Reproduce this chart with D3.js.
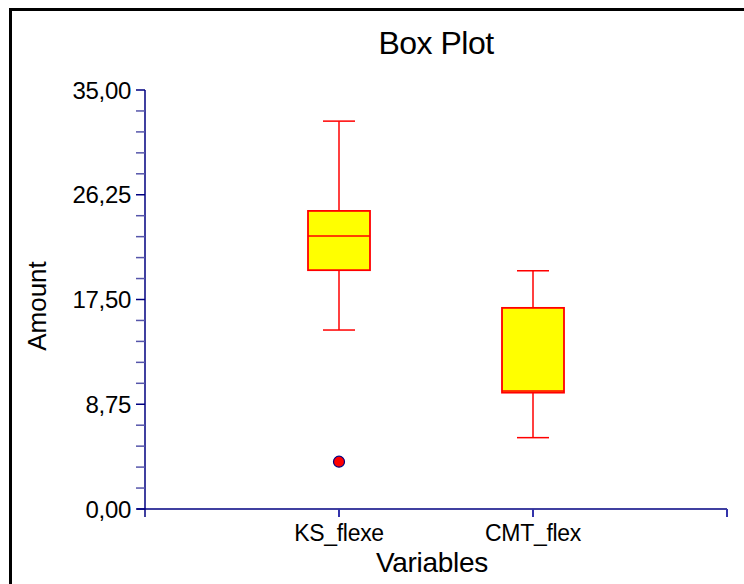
<!DOCTYPE html>
<html><head><meta charset="utf-8">
<script src="https://cdn.jsdelivr.net/npm/d3@7"></script>
<style>body{margin:0;background:#fff}svg{display:block}text{font-family:"Liberation Sans",Arial,sans-serif}</style>
</head><body><svg id="c" width="744" height="584"></svg>
<script>
const categories = ["KS_flexe", "CMT_flex"];
const whiskerHigh = [32.4, 19.9];
const q3 = [24.9, 16.8];
const median = [22.8, 9.86];
const q1 = [19.95, 9.72];
const whiskerLow = [14.95, 5.96];
const outliers = [[3.95], []];
const yTicks = [0, 8.75, 17.5, 26.25, 35];

const svg = d3.select("#c");
const x = d3.scaleLinear().domain([0, 3]).range([145, 727]);
const y = d3.scaleLinear().domain([0, 35]).range([509, 90]);
const fmt = v => d3.format(".2f")(v).replace(".", ",");

// frame
svg.append("path").attr("d", "M10.5,584V9.5H744").attr("fill", "none").attr("stroke", "#000").attr("stroke-width", 3);

// title
svg.append("text").attr("x", 436).attr("y", 54).attr("text-anchor", "middle").attr("font-size", 32).attr("letter-spacing", "-0.5").text("Box Plot");

// y axis
const ya = svg.append("g").attr("transform", "translate(145,0)");
ya.append("line").attr("y1", 90).attr("y2", 517).attr("stroke", "#000080").attr("stroke-width", 1.5);
const minor = d3.range(0, 35.001, 1.75);
ya.selectAll("line.mn").data(minor).join("line").attr("class", "mn")
  .attr("x1", -9).attr("x2", 0).attr("y1", d => y(d)).attr("y2", d => y(d))
  .attr("stroke", d => yTicks.some(t => Math.abs(t - d) < 1e-6) ? "#000080" : "#5555aa").attr("stroke-width", 1.5);
ya.selectAll("text").data(yTicks).join("text")
  .attr("x", -14).attr("y", d => y(d)).attr("dy", "0.36em").attr("text-anchor", "end")
  .attr("font-size", 24).attr("letter-spacing", "-0.3").text(fmt);

// x axis
const xa = svg.append("g");
xa.append("line").attr("x1", 137).attr("x2", 727).attr("y1", 509).attr("y2", 509).attr("stroke", "#000080").attr("stroke-width", 1.5);
xa.selectAll("line.t").data([1, 2, 3]).join("line").attr("class", "t")
  .attr("x1", d => x(d)).attr("x2", d => x(d)).attr("y1", 509).attr("y2", 517)
  .attr("stroke", "#3333aa").attr("stroke-width", 2);
xa.selectAll("text").data(categories).join("text")
  .attr("x", (d, i) => x(i + 1)).attr("y", 541).attr("text-anchor", "middle")
  .attr("font-size", 23).attr("letter-spacing", "-0.3").text(d => d);

// axis titles
svg.append("text").attr("x", 432).attr("y", 572).attr("text-anchor", "middle").attr("font-size", 28).attr("letter-spacing", "-0.3").text("Variables");
svg.append("text").attr("transform", "translate(46,306) rotate(-90)").attr("text-anchor", "middle").attr("font-size", 26).text("Amount");

// boxes
const bw = 31, cw = 16;
categories.forEach((c, i) => {
  const cx = x(i + 1);
  const g = svg.append("g");
  g.append("line").attr("x1", cx).attr("x2", cx).attr("y1", y(whiskerHigh[i])).attr("y2", y(q3[i])).attr("stroke", "#ff0000").attr("stroke-width", 1.5);
  g.append("line").attr("x1", cx).attr("x2", cx).attr("y1", y(q1[i])).attr("y2", y(whiskerLow[i])).attr("stroke", "#ff0000").attr("stroke-width", 1.5);
  [whiskerHigh[i], whiskerLow[i]].forEach(v => g.append("line").attr("x1", cx - cw).attr("x2", cx + cw).attr("y1", y(v)).attr("y2", y(v)).attr("stroke", "#ff0000").attr("stroke-width", 1.5));
  g.append("rect").attr("x", cx - bw).attr("width", bw * 2).attr("y", y(q3[i])).attr("height", y(q1[i]) - y(q3[i]))
    .attr("fill", "#ffff00").attr("stroke", "#ff0000").attr("stroke-width", 1.8);
  g.append("line").attr("x1", cx - bw).attr("x2", cx + bw).attr("y1", y(median[i])).attr("y2", y(median[i])).attr("stroke", "#ff0000").attr("stroke-width", 1.5);
  g.selectAll("circle").data(outliers[i]).join("circle").attr("cx", cx).attr("cy", d => y(d)).attr("r", 5.5)
    .attr("fill", "#ff0000").attr("stroke", "#000080").attr("stroke-width", 1.2);
});
</script></body></html>
